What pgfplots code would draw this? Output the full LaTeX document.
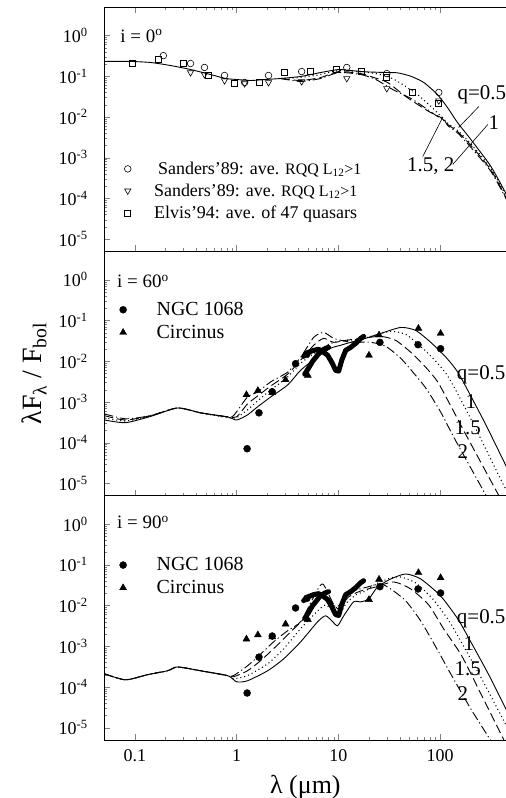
\documentclass[border=0pt]{standalone}
\usepackage{pgfplots}
\pgfplotsset{compat=1.18}
\usepackage{pgfplotstable}
\usepackage{fontspec}
\setmainfont{Liberation Serif}

% NGC 1068 photometry and Circinus photometry (same in both lower panels)
\pgfplotstableread{
lam    f
1.27   7.1e-5
1.66   5.4e-4
2.24   1.78e-3
3.8    8.7e-3
4.9    0.015
25.6   0.029
60.6   0.0255
101    0.0203
}\ngc
\pgfplotstableread{
lam    f
1.25   1.5e-3
1.62   1.9e-3
2.24   1.7e-3
3.03   3.5e-3
5.02   4.5e-3
20.0   0.014
25.1   0.044
61.2   0.064
101    0.048
}\circinus
% NGC 1068 mid-IR spectrum
\pgfplotstableread{
lam    f
4.56   0.0132
5.1    0.0166
5.71   0.0185
6.4    0.0196
7.17   0.0166
7.85   0.014
8.6    9.5e-3
9.4    6.0e-3
10.07  5.7e-3
10.8   0.0106
11.8   0.0185
13.2   0.0219
14.8   0.0275
16.6   0.0364
17.7   0.0407
}\ngcspec
\pgfplotstableread{
lam    f
4.67   4.8e-3
5.1    6.8e-3
5.59   0.0100
6.12   0.0132
6.6    0.0170
7.3    0.0200
8.0    0.0220
}\ngcspecb

\pgfplotsset{
  every axis/.append style={
    scale only axis, width=402bp, height=244bp,
    xmin=0.05, xmax=450, ymin=5e-6, ymax=5,
    xtick={0.1,1,10,100},
    ytick={1e-5,1e-4,1e-3,1e-2,1e-1,1},
    yticklabels={10\textsuperscript{-5},10\textsuperscript{-4},10\textsuperscript{-3},
      10\textsuperscript{-2},10\textsuperscript{-1},10\textsuperscript{0}},
    ytick pos=left,
    tick align=inside,
    major tick length=6bp, minor tick length=3bp,
    axis line style={line width=0.8bp},
    yticklabel style={font=\fontsize{18}{18}\selectfont, xshift=-13bp},
    xticklabel style={font=\fontsize{18}{18}\selectfont, yshift=-6bp},
    clip mode=individual,
    legend cell align=left,
  },
}
\tikzset{
  qa/.style={black, line width=0.9bp, smooth, tension=0.4},
  qb/.style={black, line width=1.1bp, dash pattern=on 1bp off 3bp, smooth, tension=0.4},
  qc/.style={black, line width=0.9bp, dash pattern=on 9bp off 4bp, smooth, tension=0.4},
  qd/.style={black, line width=0.9bp, dash pattern=on 9bp off 3bp on 1.2bp off 3bp, smooth, tension=0.4},
  qlab/.style={font=\fontsize{21}{21}\selectfont, inner sep=0pt},
  spec/.style={black, line width=5bp, line cap=round, line join=round},
}

\begin{document}
\begin{tikzpicture}
% ---------------- i = 0 ----------------
\begin{loglogaxis}[name=p1, xtick pos=both, xticklabels={},
  legend style={at={(axis description cs:0.05,0.375)}, anchor=north west,
    draw=none, fill=none, inner sep=0pt, row sep=4bp,
    font=\fontsize{18}{20}\selectfont,
    /tikz/every odd column/.append style={column sep=21bp}}]
\addplot[only marks, mark=o, mark size=3.3bp, mark options={line width=0.6bp}] coordinates {
  (0.191,0.32) (0.353,0.205) (0.484,0.164) (0.762,0.104) (1.2,0.070)
  (2.06,0.104) (4.36,0.13) (12.1,0.164) (29.9,0.116) (97,0.040)};
\addlegendentry{\hspace{4bp}Sanders'89: ave. {\fontsize{16}{16}\selectfont RQQ L\textsubscript{12}>1}}
\addplot[only marks, mark=triangle, mark size=3.6bp, mark options={rotate=180, line width=0.6bp}] coordinates {
  (0.353,0.123) (0.484,0.110) (0.762,0.078) (1.2,0.066) (2.06,0.070)
  (4.36,0.074) (12.1,0.088) (29.9,0.050) (97,0.025)};
\addlegendentry{Sanders'89: ave. {\fontsize{16}{16}\selectfont RQQ L\textsubscript{12}>1}}
\addplot[only marks, mark=square, mark size=3bp, mark options={line width=0.6bp}] coordinates {
  (0.095,0.205) (0.171,0.257) (0.30,0.205) (0.53,0.104) (0.955,0.066)
  (1.68,0.070) (2.97,0.123) (5.3,0.13) (9.6,0.146) (16.9,0.13)
  (29.9,0.093) (53.8,0.040) (96.9,0.021)};
\addlegendentry{Elvis'94: ave. of 47 quasars}

\addplot[qa, forget plot] coordinates {
  (0.0504,0.230) (0.0907,0.230) (0.143,0.217) (0.224,0.183) (0.353,0.146)
  (0.555,0.110) (0.780,0.0878) (1.0,0.083) (1.37,0.0784) (1.93,0.083) (2.71,0.0878)
  (4.26,0.0984) (6.70,0.123) (10.07,0.146) (13.2,0.138) (18.5,0.128) (29.9,0.123)
  (38,0.121) (51.4,0.10) (69,0.070) (94,0.0355) (118,0.017) (148,7.3e-3)
  (200,2.8e-3) (315,6.1e-4) (452,1.2e-4)};
\addplot[qb, forget plot] coordinates {
  (2.71,0.0878) (4.26,0.0929) (6.70,0.110) (10.07,0.138) (18.5,0.125)
  (25,0.112) (32.7,0.092) (43.9,0.06) (59.8,0.0355) (80.8,0.0183) (97.5,0.0115)
  (119,7.0e-3) (149,4.6e-3) (200,2.2e-3) (315,5.4e-4) (452,1.05e-4)};
\addplot[qc, forget plot] coordinates {
  (2.71,0.0878) (4.26,0.0784) (6.70,0.0929) (10.07,0.130) (16.6,0.116)
  (22.2,0.0929) (30.5,0.070) (45.9,0.0317) (77.3,0.0136) (101,9.7e-3)
  (119,6.5e-3) (149,4.3e-3) (200,2.0e-3) (315,5.0e-4) (452,9.5e-5)};
\addplot[qd, forget plot] coordinates {
  (2.71,0.0878) (4.26,0.0741) (6.70,0.0878) (10.07,0.123) (16.6,0.110)
  (23.3,0.083) (34.2,0.0471) (53.8,0.0268) (94.7,0.0102) (106,9.7e-3)
  (119,6.1e-3) (149,4.0e-3) (200,1.8e-3) (315,4.6e-4) (452,9e-5)};

\node[anchor=west, font=\fontsize{19}{19}\selectfont, inner sep=0pt]
  at (axis description cs:0.04,0.882) {i = 0\textsuperscript{o}};
\node[qlab] at (axis cs:257,0.0355) {q=0.5};
\node[qlab] at (axis cs:337,7.3e-3) {1};
\node[qlab] at (axis cs:80.8,6.0e-4) {1.5, 2};
\draw[line width=0.6bp] (axis cs:152,5.5e-3) -- (axis cs:240,0.018);
\draw[line width=0.6bp] (axis cs:133,6.8e-4) -- (axis cs:294,6.5e-3);
\draw[line width=0.6bp] (axis cs:67.4,1.06e-3) -- (axis cs:106,9.7e-3);
\end{loglogaxis}

% ---------------- i = 60 ----------------
\begin{loglogaxis}[name=p2, at={(p1.south west)}, anchor=north west, xtick pos=left,
  xticklabels={},
  ylabel={λF\textsubscript{λ} / F\textsubscript{bol}},
  ylabel style={font=\fontsize{28}{28}\selectfont, at={(axis description cs:-0.174,0.5)}, anchor=center},
  legend style={at={(axis description cs:0.038,0.80)}, anchor=north west,
    draw=none, fill=none, inner sep=0pt, row sep=4bp,
    font=\fontsize{20}{22}\selectfont,
    /tikz/every odd column/.append style={column sep=28bp}}]
\addplot[only marks, mark=*, mark size=3.5bp] table {\ngc};
\addlegendentry{NGC 1068}
\addplot[only marks, mark=triangle*, mark size=4bp] table {\circinus};
\addlegendentry{Circinus}
\addplot[spec, forget plot] table {\ngcspec};
\addplot[spec, forget plot] table {\ngcspecb};

\addplot[qa, forget plot] coordinates {
  (0.0504,3.6e-4) (0.0811,3.1e-4) (0.143,4.4e-4) (0.263,7.1e-4) (0.443,5.4e-4)
  (0.816,4.3e-4) (1.0,3.6e-4) (1.28,4.8e-4) (1.61,7.6e-4) (2.16,1.32e-3)
  (3.17,2.6e-3) (4.26,6.0e-3) (5.98,0.0118) (8.40,0.0208) (10.5,0.0246)
  (13.2,0.0291) (18.5,0.0364) (26.1,0.0482) (41.0,0.0675) (57.5,0.057)
  (80.8,0.0291) (114,0.0125) (149,5.4e-3) (200,1.4e-3) (281,2.75e-4) (452,2.45e-5)};
\addplot[qb, forget plot] coordinates {
  (0.0504,4.1e-4) (0.0811,3.4e-4) (0.143,4.6e-4) (0.263,7.1e-4) (0.443,5.4e-4)
  (0.816,4.1e-4) (1.0,4.1e-4) (1.28,6.4e-4) (1.61,1.06e-3) (2.16,1.96e-3)
  (3.17,4.1e-3) (4.26,8.9e-3) (5.98,0.0166) (8.40,0.0275) (11.8,0.0325)
  (16.6,0.0344) (20.8,0.0407) (32.7,0.054) (45.9,0.0456) (64.4,0.0232)
  (90.5,0.0100) (119,4.3e-3) (160,1.12e-3) (224,2.2e-4) (394,1.25e-5) (452,6.4e-6)};
\addplot[qc, forget plot] coordinates {
  (0.0504,4.6e-4) (0.0811,3.6e-4) (0.143,4.6e-4) (0.263,7.1e-4) (0.443,5.4e-4)
  (0.816,4.3e-4) (1.0,4.3e-4) (1.28,8.9e-4) (1.61,1.4e-3) (2.16,2.45e-3)
  (3.17,4.8e-3) (4.26,0.0106) (5.72,0.0246) (7.17,0.0364) (8.99,0.0291)
  (11.8,0.0325) (16.6,0.0364) (26.1,0.0407) (36.6,0.0325) (51.4,0.0166)
  (72.2,7.1e-3) (94.7,3.1e-3) (127,8.0e-4) (179,1.57e-4) (394,4.1e-6)};
\addplot[qd, forget plot] coordinates {
  (0.0504,5.1e-4) (0.0811,3.85e-4) (0.143,4.6e-4) (0.263,7.1e-4) (0.443,5.4e-4)
  (0.816,4.3e-4) (0.934,4.6e-4) (1.28,1.32e-3) (1.61,1.75e-3) (2.16,3.1e-3)
  (3.17,5.4e-3) (4.26,0.0125) (5.72,0.0385) (7.17,0.0509) (8.99,0.0364)
  (11.8,0.0308) (13.2,0.0291) (20.8,0.0291) (29.2,0.0232) (41.0,0.0118)
  (55.0,5.1e-3) (72.2,2.2e-3) (101,5.7e-4) (142,1.12e-4) (315,3.1e-6)};

\node[anchor=west, font=\fontsize{19}{19}\selectfont, inner sep=0pt]
  at (axis description cs:0.032,0.877) {i = 60\textsuperscript{o}};
\node[qlab, anchor=east] at (axis cs:440,4.6e-3) {q=0.5};
\node[qlab] at (axis cs:200,1e-3) {1};
\node[qlab] at (axis cs:187,2.3e-4) {1.5};
\node[qlab] at (axis cs:167,6.0e-5) {2};
\end{loglogaxis}

% ---------------- i = 90 ----------------
\begin{loglogaxis}[name=p3, at={(p2.south west)}, anchor=north west, xtick pos=left,
  xticklabels={0.1,1,10,100},
  xlabel={λ (μm)},
  xlabel style={font=\fontsize{26}{26}\selectfont, at={(axis description cs:0.5,-0.193)}, anchor=center},
  legend style={at={(axis description cs:0.038,0.755)}, anchor=north west,
    draw=none, fill=none, inner sep=0pt, row sep=4bp,
    font=\fontsize{20}{22}\selectfont,
    /tikz/every odd column/.append style={column sep=28bp}}]
\addplot[only marks, mark=*, mark size=3.5bp] table {\ngc};
\addlegendentry{NGC 1068}
\addplot[only marks, mark=triangle*, mark size=4bp] table {\circinus};
\addlegendentry{Circinus}
\addplot[spec, forget plot] table {\ngcspec};
\addplot[spec, forget plot] table {\ngcspecb};

\addplot[qa, forget plot] coordinates {
  (0.0504,2.1e-4) (0.0811,1.5e-4) (0.133,2.0e-4) (0.210,2.5e-4) (0.263,3.1e-4)
  (0.443,2.5e-4) (0.816,1.9e-4) (1.0,1.34e-4) (1.28,1.42e-4) (2.02,2.5e-4)
  (2.90,4.9e-4) (4.26,1.28e-3) (6.26,4.0e-3) (7.5,5.6e-3) (8.79,4.0e-3)
  (9.84,3.2e-3) (11.3,5.6e-3) (14.1,0.0123) (16.6,0.0123) (19.9,0.0145)
  (24.3,0.0286) (32.7,0.0449) (45.9,0.0595) (64.4,0.0449) (101,0.0172)
  (149,4.7e-3) (200,1.28e-3) (300,2.0e-4) (452,2.6e-5)};
\addplot[qb, forget plot] coordinates {
  (0.0504,2.1e-4) (0.0811,1.5e-4) (0.133,2.0e-4) (0.210,2.5e-4) (0.263,3.1e-4)
  (0.443,2.5e-4) (0.816,1.9e-4) (0.934,1.59e-4) (1.28,1.9e-4) (2.02,3.7e-4)
  (2.90,8.6e-4) (4.26,2.7e-3) (6.26,7.4e-3) (7.5,0.0103) (8.99,7.0e-3)
  (10.07,5.3e-3) (11.8,0.0109) (14.8,0.0182) (18.5,0.0228) (23.3,0.0338)
  (32.7,0.0475) (41.0,0.0502) (57.5,0.0358) (84.6,0.0145) (122,4.2e-3)
  (171,9.7e-4) (262,1.42e-4) (452,1.06e-5)};
\addplot[qc, forget plot] coordinates {
  (0.0504,2.1e-4) (0.0811,1.5e-4) (0.133,2.0e-4) (0.210,2.5e-4) (0.263,3.1e-4)
  (0.443,2.5e-4) (0.816,1.9e-4) (0.934,1.78e-4) (1.28,2.5e-4) (1.72,4.4e-4)
  (2.42,9.7e-4) (3.40,2.25e-3) (4.77,5.3e-3) (6.40,0.0145) (7.01,0.0182)
  (8.99,0.0109) (10.07,8.3e-3) (12.6,0.0163) (16.6,0.0228) (23.3,0.0286)
  (35.0,0.0379) (51.4,0.0255) (77.3,0.0103) (108,2.7e-3) (163,5.8e-4)
  (251,6.8e-5) (394,7.1e-6) (452,3.6e-6)};
\addplot[qd, forget plot] coordinates {
  (0.0504,2.1e-4) (0.0811,1.5e-4) (0.133,2.0e-4) (0.210,2.5e-4) (0.263,3.1e-4)
  (0.443,2.5e-4) (0.816,1.9e-4) (0.934,1.9e-4) (1.28,3.3e-4) (1.65,5.8e-4)
  (2.31,1.28e-3) (3.17,2.4e-3) (4.26,4.0e-3) (5.59,0.0145) (7.01,0.0338)
  (9.40,9.2e-3) (11.8,0.0163) (14.1,0.0228) (19.4,0.0286) (26.1,0.0338)
  (32.7,0.0255) (45.9,0.0130) (64.4,4.2e-3) (90.5,9.7e-4) (127,2.1e-4)
  (200,2.9e-5) (315,4.8e-6)};

\node[anchor=west, font=\fontsize{19}{19}\selectfont, inner sep=0pt]
  at (axis description cs:0.032,0.889) {i = 90\textsuperscript{o}};
\node[qlab, anchor=east] at (axis cs:440,4.7e-3) {q=0.5};
\node[qlab] at (axis cs:191,1.15e-3) {1};
\node[qlab] at (axis cs:187,2.8e-4) {1.5};
\node[qlab] at (axis cs:167,6.8e-5) {2};
\end{loglogaxis}

\pgfresetboundingbox
\useasboundingbox ([xshift=-104bp,yshift=7bp]p1.north west)
  rectangle ([xshift=-1.3bp,yshift=-58bp]p3.south east);
\end{tikzpicture}
\end{document}
